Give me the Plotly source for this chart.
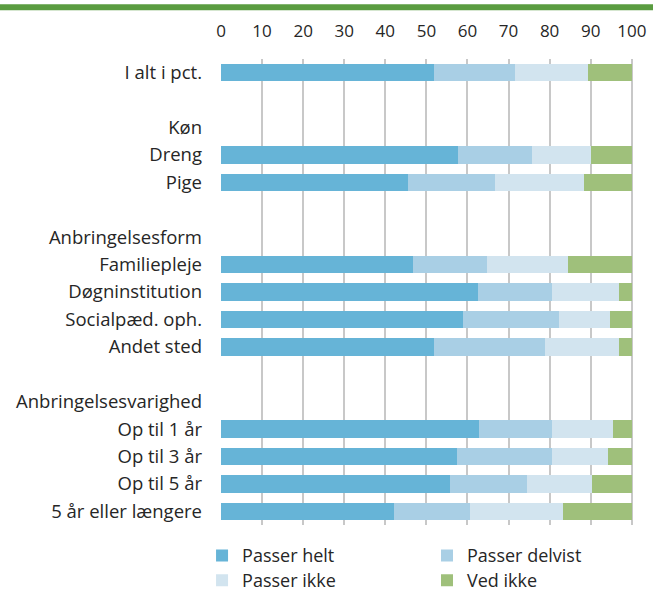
import plotly.graph_objects as go

# rows top to bottom; empty strings of different length are blank spacer rows
CATEGORIES = [
    "I alt i pct.", " ",
    "Køn", "Dreng", "Pige", "  ",
    "Anbringelsesform", "Familiepleje", "Døgninstitution", "Socialpæd. oph.", "Andet sted", "   ",
    "Anbringelsesvarighed", "Op til 1 år", "Op til 3 år", "Op til 5 år", "5 år eller længere",
]

PASSER_HELT    = [51.8, None, None, 57.7, 45.5, None, None, 46.7, 62.5, 58.9, 51.8, None, None, 62.8, 57.4, 55.7, 42.1]
PASSER_DELVIST = [19.7, None, None, 17.9, 21.1, None, None, 18.0, 18.0, 23.4, 27.0, None, None, 17.7, 23.1, 18.7, 18.5]
PASSER_IKKE    = [17.8, None, None, 14.5, 21.8, None, None, 19.8, 16.5, 12.5, 18.0, None, None, 15.0, 13.6, 16.0, 22.6]
VED_IKKE       = [10.7, None, None,  9.9, 11.6, None, None, 15.5,  3.0,  5.2,  3.2, None, None,  4.5,  5.9,  9.6, 16.8]

X_TICKS = [0, 10, 20, 30, 40, 50, 60, 70, 80, 90, 100]

SERIES = [
    ("Passer helt", PASSER_HELT, "#66b4d7"),
    ("Passer delvist", PASSER_DELVIST, "#a9cfe5"),
    ("Passer ikke", PASSER_IKKE, "#d2e4ef"),
    ("Ved ikke", VED_IKKE, "#9fc07b"),
]

FONT = "'Open Sans', sans-serif"
TEXT = "#262626"

# legend is a 2x2 grid: one single-entry legend per cell (x in paper, y in container)
LEGEND_IDS = ["legend", "legend2", "legend3", "legend4"]
LEGEND_POS = [(-0.046, 0.094), (0.5, 0.094), (-0.046, 0.052), (0.5, 0.052)]

fig = go.Figure()
for (name, values, color), leg in zip(SERIES, LEGEND_IDS):
    fig.add_trace(go.Bar(
        y=CATEGORIES, x=values, name=name, orientation="h",
        marker=dict(color=color, line=dict(width=0)),
        legend=leg,
    ))

legends = {
    leg: dict(
        orientation="h", xref="paper", yref="container",
        x=x, y=y, xanchor="left", yanchor="top",
        font=dict(size=18, color=TEXT), itemclick=False,
        bgcolor="rgba(0,0,0,0)",
    )
    for leg, (x, y) in zip(LEGEND_IDS, LEGEND_POS)
}

fig.update_layout(
    width=653, height=593,
    margin=dict(l=221, r=20, t=59, b=68),
    barmode="stack", bargap=0.36,
    plot_bgcolor="white", paper_bgcolor="white",
    font=dict(family=FONT, size=17, color=TEXT),
    showlegend=True,
    shapes=[dict(
        type="line", xref="paper", yref="paper",
        x0=-0.54, x1=1.05, y0=1.111, y1=1.111,
        line=dict(color="#5a9c40", width=6),
    )],
    **legends,
)

fig.update_xaxes(
    side="top", range=[0, 100.3], tickvals=X_TICKS, automargin=False,
    showgrid=True, gridcolor="#c8c8c8", gridwidth=1.5,
    zeroline=False, showline=False, ticks="",
    ticklabelstandoff=18, tickfont=dict(size=17, color=TEXT),
    fixedrange=True,
)
fig.update_yaxes(
    type="category", categoryorder="array", categoryarray=CATEGORIES,
    autorange="reversed", showgrid=False, zeroline=False, showline=False,
    automargin=False,
    ticks="", ticklabelstandoff=18, tickfont=dict(size=18.5, color=TEXT),
    fixedrange=True,
)

# page body has a default 8px margin; drop it so the figure sits at the window corner
fig.write_html(
    "out.html",
    config={"displayModeBar": False},
    post_script="document.body.style.margin='0';",
)
